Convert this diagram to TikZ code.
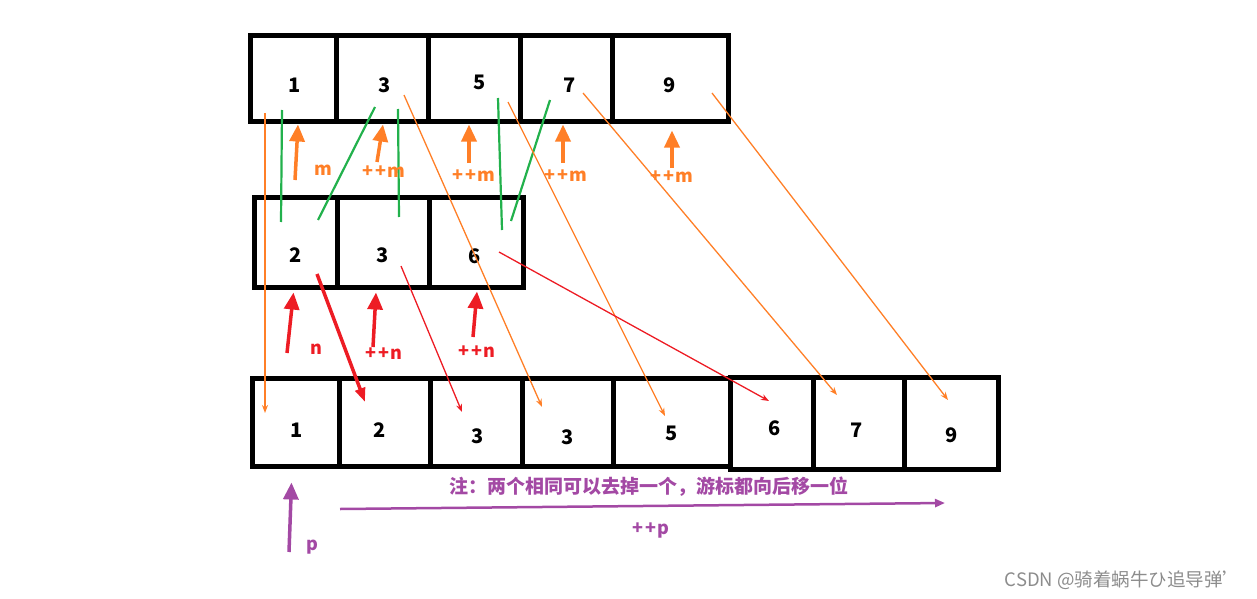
\documentclass[tikz,border=0pt]{standalone}
\usepackage{fontspec}
\setmainfont{Noto Sans CJK SC}
\usetikzlibrary{arrows.meta}

\definecolor{paintorange}{RGB}{255,127,39}
\definecolor{paintred}{RGB}{237,28,36}
\definecolor{paintgreen}{RGB}{34,177,76}
\definecolor{paintpurple}{RGB}{163,73,164}

\newcommand{\incr}[1]{+\kern2.5pt+\kern1pt#1}

\tikzset{
  cell/.style={draw, line width=5pt, inner sep=0pt},
  num/.style={font=\fontsize{20}{20}\selectfont\bfseries},
  lab/.style={font=\fontsize{18}{18}\selectfont\bfseries},
  thinor/.style={paintorange, line width=1.3pt, -{Stealth[length=8pt,width=6pt]}},
  thinred/.style={paintred, line width=1.3pt, -{Stealth[length=8pt,width=6pt]}},
  match/.style={paintgreen, line width=2.2pt},
  ptr/.style={line width=3.5pt, -{Triangle[length=17pt,width=15pt]}}
}

\begin{document}
\begin{tikzpicture}[x=1pt, y=-1pt]
  \useasboundingbox (0,0) rectangle (1257,599);

  % first array
  \node[cell, minimum width=86pt, minimum height=86pt] (tc1) at (293,79) {};
  \node[cell, minimum width=92pt, minimum height=86pt] (tc2) at (382,79) {};
  \node[cell, minimum width=92pt, minimum height=86pt] (tc3) at (474,79) {};
  \node[cell, minimum width=92pt, minimum height=86pt] (tc4) at (566,79) {};
  \node[cell, minimum width=116pt, minimum height=86pt] (tc5) at (670,79) {};
  \node[num] (ta1) at (295,85) {1};
  \node[num] (ta2) at (385,85) {3};
  \node[num] (ta3) at (480,82) {5};
  \node[num] (ta4) at (570,85) {7};
  \node[num] (ta5) at (670,85) {9};

  % second array
  \node[cell, minimum width=83pt, minimum height=90pt] (mc1) at (295.5,242) {};
  \node[cell, minimum width=92pt, minimum height=90pt] (mc2) at (383,242) {};
  \node[cell, minimum width=94pt, minimum height=90pt] (mc3) at (476,242) {};
  \node[num] (ma1) at (296,255) {2};
  \node[num] (ma2) at (383,255) {3};
  \node[num] (ma3) at (475,256) {6};

  % merged array
  \node[cell, minimum width=87pt, minimum height=88pt] (bc1) at (295.5,422) {};
  \node[cell, minimum width=91pt, minimum height=88pt] (bc2) at (384.5,422) {};
  \node[cell, minimum width=92pt, minimum height=88pt] (bc3) at (476,422) {};
  \node[cell, minimum width=91pt, minimum height=88pt] (bc4) at (567.5,422) {};
  \node[cell, minimum width=117pt, minimum height=88pt] (bc5) at (671.5,422) {};
  \node[cell, minimum width=83pt, minimum height=92pt] (bc6) at (771.5,423) {};
  \node[cell, minimum width=91pt, minimum height=92pt] (bc7) at (858.5,423) {};
  \node[cell, minimum width=94pt, minimum height=92pt] (bc8) at (951,423) {};
  \node[num] (ba1) at (297,430) {1};
  \node[num] (ba2) at (380,430) {2};
  \node[num] (ba3) at (478,436) {3};
  \node[num] (ba4) at (568,437) {3};
  \node[num] (ba5) at (672,433) {5};
  \node[num] (ba6) at (775,428) {6};
  \node[num] (ba7) at (857,430) {7};
  \node[num] (ba8) at (952,435) {9};

  % comparisons
  \draw[match] ([shift={(-13,25)}]ta1.center) -- ([shift={(-15,-33)}]ma1.center);
  \draw[match] ([shift={(-10,22)}]ta2.center) -- ([shift={(22,-35)}]ma1.center);
  \draw[match] ([shift={(13,24)}]ta2.center) -- ([shift={(16,-38)}]ma2.center);
  \draw[match] ([shift={(18,16)}]ta3.center) -- ([shift={(27,-26)}]ma3.center);
  \draw[match] ([shift={(-20,15)}]ta4.center) -- ([shift={(36,-35)}]ma3.center);

  % copies from the first array
  \draw[thinor] ([shift={(-30,28)}]ta1.center) -- ([shift={(-32,-17)}]ba1.center);
  \draw[thinor] ([shift={(19,10)}]ta2.center) -- ([shift={(-26,-30)}]ba4.center);
  \draw[thinor] ([shift={(28,20)}]ta3.center) -- ([shift={(-7,-17)}]ba5.center);
  \draw[thinor] ([shift={(13,8)}]ta4.center) -- ([shift={(-20,-35)}]ba7.center);
  \draw[thinor] ([shift={(42,8)}]ta5.center) -- ([shift={(-4,-35)}]ba8.center);

  % copies from the second array
  \draw[paintred, line width=3.5pt, -{Triangle[length=14pt,width=10pt]}]
    ([shift={(21,19)}]ma1.center) -- ([shift={(-15,-28)}]ba2.center);
  \draw[thinred] ([shift={(18,11)}]ma2.center) -- ([shift={(-16,-24)}]ba3.center);
  \draw[thinred] ([shift={(24,-4)}]ma3.center) -- ([shift={(-6,-27)}]ba6.center);

  % cursor m
  \node[lab, text=paintorange] (lm1) at (323,170) {m};
  \node[lab, text=paintorange] (lm2) at (384,172) {\incr{m}};
  \node[lab, text=paintorange] (lm3) at (474,176) {\incr{m}};
  \node[lab, text=paintorange] (lm4) at (566,176) {\incr{m}};
  \node[lab, text=paintorange] (lm5) at (672,177) {\incr{m}};
  \draw[ptr, paintorange] (295,180) -- ([xshift=5pt]tc1.south);
  \draw[ptr, paintorange] (377,162) -- ([xshift=1pt]tc2.south);
  \draw[ptr, paintorange] (469,163) -- ([xshift=-5pt]tc3.south);
  \draw[ptr, paintorange] (563,163) -- ([xshift=-3pt]tc4.south);
  \draw[ptr, paintorange] (672,168) -- ([shift={(2,6)}]tc5.south);

  % cursor n
  \node[lab, text=paintred] (ln1) at (316,349) {n};
  \node[lab, text=paintred] (ln2) at (384,354) {\incr{n}};
  \node[lab, text=paintred] (ln3) at (477,352) {\incr{n}};
  \draw[ptr, paintred] (287,353) -- ([shift={(-2,3)}]mc1.south);
  \draw[ptr, paintred] (373,347) -- ([shift={(-7,3)}]mc2.south);
  \draw[ptr, paintred] (473,337) -- ([shift={(1,2)}]mc3.south);

  % cursor p
  \node[lab, text=paintpurple] (lp1) at (312,547) {p};
  \node[lab, text=paintpurple] (lp2) at (651,531) {\incr{p}};
  \node[text=paintpurple, font=\fontsize{19}{19}\selectfont\bfseries] (note) at (649,487)
    {注：两个相同可以去掉一个，游标都向后移一位};
  \draw[ptr, paintpurple] (289,552) -- ([shift={(-4,14)}]bc1.south);
  \coordinate (pstart) at (340,509);
  \coordinate (pend) at (945,503);
  \draw[paintpurple, line width=2.5pt, -{Triangle[length=10pt,width=8pt]}] (pstart) -- (pend);

  % watermark
  \node[text=black!45, font=\fontsize{18.5}{18.5}\selectfont] (mark) at (1123,580) {CSDN @骑着蜗牛ひ追导弹'};
\end{tikzpicture}
\end{document}
